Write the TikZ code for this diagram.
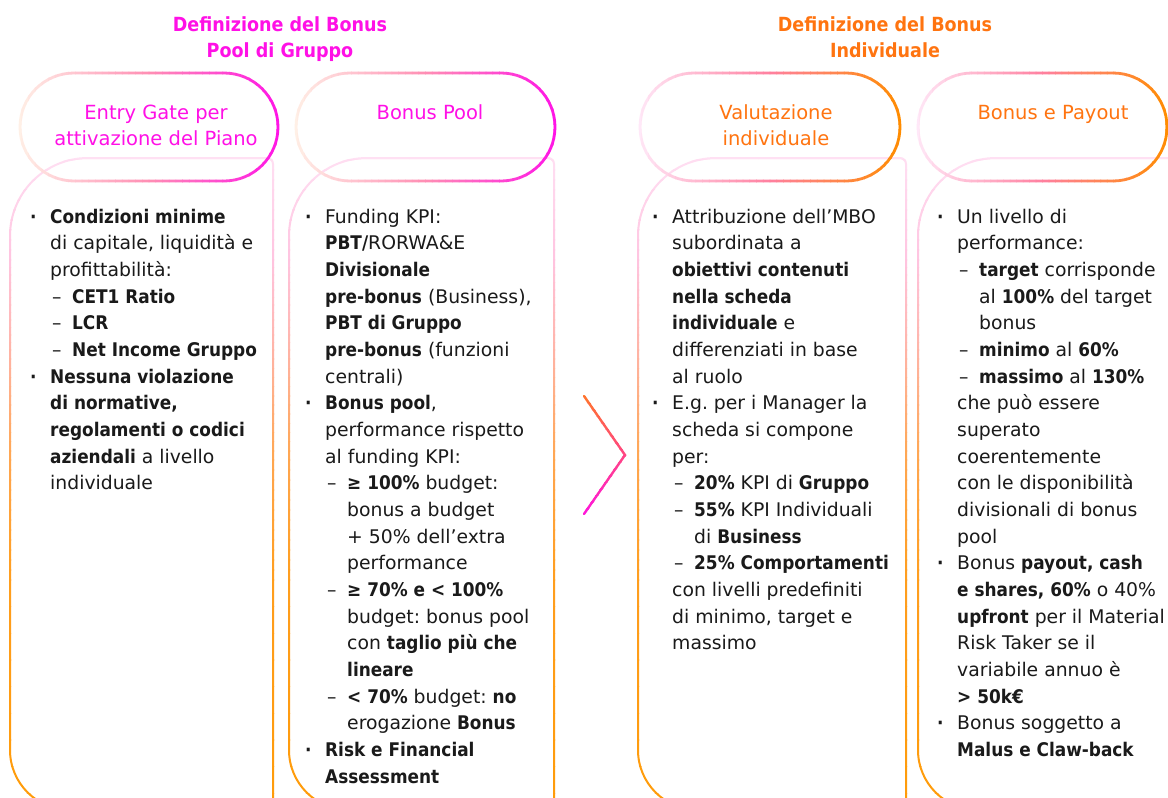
\documentclass[tikz,border=0pt]{standalone}
\usepackage{fontspec}
\setmainfont{DejaVu Sans}[BoldFeatures={FakeStretch=0.9}]
\frenchspacing

% palette
\definecolor{ink}{HTML}{1A1A1A}
\definecolor{magentaT}{HTML}{FF10E6}
\definecolor{orangeT}{HTML}{FF7410}
% group 1 pill: pale peach -> pink -> magenta
\definecolor{gaA}{HTML}{FFF0E6}
\definecolor{gaB}{HTML}{FF8FB4}
\definecolor{gaC}{HTML}{FF14E6}
% group 2 pill: pale pink -> coral -> orange
\definecolor{gbA}{HTML}{FFE8F8}
\definecolor{gbB}{HTML}{FF80A0}
\definecolor{gbC}{HTML}{FF8C00}
% panel outline, top to bottom
\definecolor{pS}{HTML}{FFE4F6}
\definecolor{pT}{HTML}{FFC4E0}
\definecolor{pU}{HTML}{FFB4A8}
\definecolor{pV}{HTML}{FFA650}
\definecolor{pW}{HTML}{FF9E1E}
\definecolor{pX}{HTML}{FF9A00}
% chevron
\definecolor{chevTop}{HTML}{FF7A22}
\definecolor{chevBot}{HTML}{FF10E6}

\newcommand{\bodyfont}{\fontsize{18.8}{26.67}\selectfont\lineskiplimit=-100pt\lineskip=0pt}
\newcommand{\headfont}{\fontsize{19.5}{26}\selectfont\lineskiplimit=-100pt\lineskip=0pt}

% line starts inside the text columns
\newcommand{\bitem}{\makebox[20pt][l]{\textbf{·}}}
\newcommand{\bcont}{\hspace*{20pt}}
\newcommand{\ditem}{\hspace*{22pt}\makebox[20pt][l]{–}}
\newcommand{\dcont}{\hspace*{42pt}}

% pill outline with a left-to-right three-stop colour ramp
\newcommand{\pillstroke}[5]{%
  \pgfmathsetmacro\pw{(#2-#1+10)/40}%
  \foreach \k in {0,...,39}{%
    \pgfmathsetmacro\gt{\k/39}%
    \ifdim\gt pt<0.5pt
      \pgfmathsetmacro\pc{200*\gt}\colorlet{strk}{#4!\pc!#3}%
    \else
      \pgfmathsetmacro\pc{200*(\gt-0.5)}\colorlet{strk}{#5!\pc!#4}%
    \fi
    \begin{scope}
      \clip (#1-5+\k*\pw-0.3,60) rectangle (#1-5+\k*\pw+\pw+0.3,195);
      \draw[pill line, draw=strk] (#1,73) rectangle (#2,181);
    \end{scope}
  }%
}

% one tall panel outline: rounded on the left, open at the bottom right
\newcommand{\panelpath}[2]{%
  \draw[panel line, rounded corners=78pt] (#1+120,158) -- (#1,158) -- (#1,480);
  \draw[panel line, rounded corners=60pt] (#1,480) -- (#1,810) -- (#2,810);
  \draw[panel line, rounded corners=6pt] (#1+120,158) -- (#2,158) -- (#2,900);
}

% horizontal band of all four panels, colour ramp from #3 to #4
\newcommand{\panelband}[4]{%
  \foreach \k in {0,...,11}{%
    \pgfmathsetmacro\ya{#1+(#2-#1)*\k/12}%
    \pgfmathsetmacro\yb{#1+(#2-#1)*(\k+1)/12}%
    \pgfmathsetmacro\pc{100*(\k+0.5)/12}%
    \colorlet{strk}{#4!\pc!#3}%
    \begin{scope}
      \clip (-5,\ya-0.3) rectangle (1175,\yb+0.3);
      \panelpath{10}{273}\panelpath{289}{554}\panelpath{638}{906}\panelpath{918}{1190}
    \end{scope}
  }%
}

\tikzset{
  pill line/.style={line width=2.8pt, rounded corners=54pt},
  panel line/.style={line width=2pt, line join=round, draw=strk},
  chev line/.style={line width=2.4pt, line join=miter, line cap=round},
  heading/.style={anchor=base, inner sep=0pt, font=\headfont},
  coltext/.style={anchor=base west, inner sep=0pt, text=ink},
}

\begin{document}
\begin{tikzpicture}[x=1pt,y=-1pt]
  \useasboundingbox (0,0) rectangle (1168,798);
  \fill[white] (0,0) rectangle (1168,798);
  \clip (0,0) rectangle (1168,798);

  % ---- panel outlines ----
  \panelband{140}{260}{pS}{pT}
  \panelband{260}{350}{pT}{pU}
  \panelband{350}{460}{pU}{pV}
  \panelband{460}{580}{pV}{pW}
  \panelband{580}{900}{pW}{pX}

  % ---- header pills ----
  \pillstroke{20}{278}{gaA}{gaB}{gaC}
  \pillstroke{296}{555}{gaA}{gaB}{gaC}
  \pillstroke{640}{900}{gbA}{gbB}{gbC}
  \pillstroke{918}{1167}{gbA}{gbB}{gbC}

  % ---- chevron between the two groups ----
  \coordinate (chevtop) at (584,396);
  \coordinate (chevtip) at (625,455);
  \coordinate (chevbot) at (584,514);
  \foreach \k in {0,...,19}{%
    \pgfmathsetmacro\ya{390+\k*6.6}%
    \pgfmathsetmacro\pc{100*(\k+0.5)/20}%
    \colorlet{strk}{chevBot!\pc!chevTop}%
    \begin{scope}
      \clip (570,\ya-0.3) rectangle (640,\ya+6.9);
      \draw[chev line, draw=strk] (chevtop) -- (chevtip) -- (chevbot);
    \end{scope}
  }

  % ---- group titles ----
  \node[heading, text=magentaT] (title1) at (280,31)
    {\parbox[t]{320pt}{\centering\bfseries Definizione del Bonus\\Pool di Gruppo}};
  \node[heading, text=orangeT] (title2) at (885,31)
    {\parbox[t]{320pt}{\centering\bfseries Definizione del Bonus\\Individuale}};

  % ---- pill labels ----
  \node[heading, text=magentaT] (lab1) at (156,119)
    {\parbox[t]{250pt}{\centering Entry Gate per\\attivazione del Piano}};
  \node[heading, text=magentaT] (lab2) at (430,119)
    {\parbox[t]{250pt}{\centering Bonus Pool}};
  \node[heading, text=orangeT] (lab3) at (776,119)
    {\parbox[t]{250pt}{\centering Valutazione\\individuale}};
  \node[heading, text=orangeT] (lab4) at (1053,119)
    {\parbox[t]{250pt}{\centering Bonus e Payout}};

  % ---- column texts ----
  \node[coltext] (col1) at (30,223) {\parbox[t]{260pt}{\bodyfont
    \bitem\textbf{Condizioni minime}\\
    \bcont di capitale, liquidità e\\
    \bcont profittabilità:\\
    \ditem\textbf{CET1 Ratio}\\
    \ditem\textbf{LCR}\\
    \ditem\textbf{Net Income Gruppo}\\
    \bitem\textbf{Nessuna violazione}\\
    \bcont\textbf{di normative,}\\
    \bcont\textbf{regolamenti o codici}\\
    \bcont\textbf{aziendali} a livello\\
    \bcont individuale}};

  \node[coltext] (col2) at (305,223) {\parbox[t]{260pt}{\bodyfont
    \bitem Funding KPI:\\
    \bcont\textbf{PBT/}RORWA\&E\\
    \bcont\textbf{Divisionale}\\
    \bcont\textbf{pre-bonus} (Business),\\
    \bcont\textbf{PBT di Gruppo}\\
    \bcont\textbf{pre-bonus} (funzioni\\
    \bcont centrali)\\
    \bitem\textbf{Bonus pool},\\
    \bcont performance rispetto\\
    \bcont al funding KPI:\\
    \ditem\textbf{≥ 100\%} budget:\\
    \dcont bonus a budget\\
    \dcont + 50\% dell’extra\\
    \dcont performance\\
    \ditem\textbf{≥ 70\% e < 100\%}\\
    \dcont budget: bonus pool\\
    \dcont con \textbf{taglio più che}\\
    \dcont\textbf{lineare}\\
    \ditem\textbf{< 70\%} budget: \textbf{no}\\
    \dcont erogazione \textbf{Bonus}\\
    \bitem\textbf{Risk e Financial}\\
    \bcont\textbf{Assessment}}};

  \node[coltext] (col3) at (652,223) {\parbox[t]{260pt}{\bodyfont
    \bitem Attribuzione dell’MBO\\
    \bcont subordinata a\\
    \bcont\textbf{obiettivi contenuti}\\
    \bcont\textbf{nella scheda}\\
    \bcont\textbf{individuale} e\\
    \bcont differenziati in base\\
    \bcont al ruolo\\
    \bitem E.g. per i Manager la\\
    \bcont scheda si compone\\
    \bcont per:\\
    \ditem\textbf{20\%} KPI di \textbf{Gruppo}\\
    \ditem\textbf{55\%} KPI Individuali\\
    \dcont di \textbf{Business}\\
    \ditem\textbf{25\% Comportamenti}\\
    \bcont con livelli predefiniti\\
    \bcont di minimo, target e\\
    \bcont massimo}};

  \node[coltext] (col4) at (937,223) {\parbox[t]{260pt}{\bodyfont
    \bitem Un livello di\\
    \bcont performance:\\
    \ditem\textbf{target} corrisponde\\
    \dcont al \textbf{100\%} del target\\
    \dcont bonus\\
    \ditem\textbf{minimo} al \textbf{60\%}\\
    \ditem\textbf{massimo} al \textbf{130\%}\\
    \bcont che può essere\\
    \bcont superato\\
    \bcont coerentemente\\
    \bcont con le disponibilità\\
    \bcont divisionali di bonus\\
    \bcont pool\\
    \bitem Bonus \textbf{payout, cash}\\
    \bcont\textbf{e shares, 60\%} o 40\%\\
    \bcont\textbf{upfront} per il Material\\
    \bcont Risk Taker se il\\
    \bcont variabile annuo è\\
    \bcont\textbf{> 50k€}\\
    \bitem Bonus soggetto a\\
    \bcont\textbf{Malus e Claw-back}}};
\end{tikzpicture}
\end{document}
